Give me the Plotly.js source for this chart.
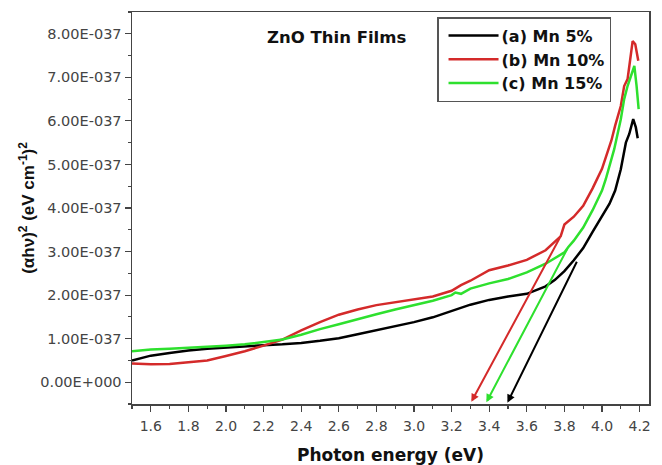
<!DOCTYPE html>
<html>
<head>
<meta charset="utf-8">
<script src="https://cdn.plot.ly/plotly-3.0.1.min.js"></script>
<style>html,body{margin:0;padding:0;background:#fff;}#chart{width:662px;height:465px;}</style>
</head>
<body>
<div id="chart"></div>
<script>
// Sample names
const seriesNames = ["(a) Mn 5%", "(b) Mn 10%", "(c) Mn 15%"];

// (a) Mn 5%
const xA = [1.5,1.6,1.7,1.8,1.9,2.0,2.1,2.2,2.3,2.4,2.5,2.6,2.7,2.8,2.9,3.0,3.1,3.2,3.3,3.4,3.5,3.6,3.7,3.75,3.8,3.85,3.9,3.95,4.0,4.04,4.07,4.1,4.127,4.145,4.166,4.18,4.19];
const yA = [0.50e-37,0.61e-37,0.67e-37,0.73e-37,0.77e-37,0.80e-37,0.83e-37,0.85e-37,0.87e-37,0.90e-37,0.95e-37,1.01e-37,1.10e-37,1.19e-37,1.28e-37,1.38e-37,1.49e-37,1.63e-37,1.78e-37,1.89e-37,1.97e-37,2.03e-37,2.20e-37,2.35e-37,2.55e-37,2.80e-37,3.08e-37,3.45e-37,3.80e-37,4.10e-37,4.40e-37,4.89e-37,5.50e-37,5.70e-37,6.04e-37,5.85e-37,5.60e-37];

// (b) Mn 10%
const xB = [1.5,1.6,1.7,1.8,1.9,2.0,2.1,2.2,2.3,2.4,2.5,2.6,2.7,2.8,2.9,3.0,3.1,3.2,3.25,3.3,3.35,3.4,3.5,3.6,3.7,3.75,3.78,3.8,3.85,3.9,3.95,4.0,4.05,4.07,4.1,4.118,4.136,4.15,4.163,4.177,4.193];
const yB = [0.43e-37,0.41e-37,0.42e-37,0.46e-37,0.50e-37,0.60e-37,0.71e-37,0.84e-37,0.98e-37,1.19e-37,1.38e-37,1.55e-37,1.67e-37,1.77e-37,1.84e-37,1.90e-37,1.97e-37,2.10e-37,2.23e-37,2.33e-37,2.45e-37,2.57e-37,2.68e-37,2.81e-37,3.03e-37,3.22e-37,3.35e-37,3.62e-37,3.80e-37,4.05e-37,4.45e-37,4.90e-37,5.55e-37,5.89e-37,6.34e-37,6.80e-37,6.96e-37,7.41e-37,7.83e-37,7.76e-37,7.38e-37];

// (c) Mn 15%
const xC = [1.5,1.6,1.7,1.8,1.9,2.0,2.1,2.2,2.3,2.4,2.5,2.6,2.7,2.8,2.9,3.0,3.1,3.2,3.22,3.25,3.3,3.4,3.5,3.6,3.7,3.8,3.82,3.85,3.9,3.95,4.0,4.02,4.065,4.1,4.118,4.136,4.154,4.172,4.184,4.195];
const yC = [0.71e-37,0.75e-37,0.77e-37,0.79e-37,0.82e-37,0.84e-37,0.87e-37,0.92e-37,0.98e-37,1.09e-37,1.22e-37,1.33e-37,1.45e-37,1.56e-37,1.67e-37,1.77e-37,1.87e-37,2.00e-37,2.06e-37,2.03e-37,2.15e-37,2.27e-37,2.37e-37,2.52e-37,2.72e-37,2.98e-37,3.10e-37,3.25e-37,3.55e-37,3.95e-37,4.40e-37,4.66e-37,5.35e-37,6.04e-37,6.50e-37,6.80e-37,7.03e-37,7.26e-37,6.80e-37,6.27e-37];

// Tangent (band-gap extrapolation) lines: [top end, arrow tip]
const tanAx = [3.87, 3.497], tanAy = [2.80e-37, -0.47e-37];
const tanBx = [3.78, 3.305], tanBy = [3.35e-37, -0.45e-37];
const tanCx = [3.82, 3.385], tanCy = [3.10e-37, -0.46e-37];

// Axis ticks
const xTickVals = [1.6,1.8,2.0,2.2,2.4,2.6,2.8,3.0,3.2,3.4,3.6,3.8,4.0,4.2];
const xTickText = ["1.6","1.8","2.0","2.2","2.4","2.6","2.8","3.0","3.2","3.4","3.6","3.8","4.0","4.2"];
const yTickVals = [0,1e-37,2e-37,3e-37,4e-37,5e-37,6e-37,7e-37,8e-37];
const yTickText = ["0.00E+000","1.00E-037","2.00E-037","3.00E-037","4.00E-037","5.00E-037","6.00E-037","7.00E-037","8.00E-037"];

const colors = ["#000000", "#d42a2a", "#2ee02e"];

const traces = [
  {x: xA, y: yA, name: seriesNames[0], mode: "lines", line: {color: colors[0], width: 2.5}},
  {x: xB, y: yB, name: seriesNames[1], mode: "lines", line: {color: colors[1], width: 2.5}},
  {x: xC, y: yC, name: seriesNames[2], mode: "lines", line: {color: colors[2], width: 2.5}}
];

function arrowAnn(xs, ys, color) {
  return {x: xs[1], y: ys[1], ax: xs[0], ay: ys[0], xref: "x", yref: "y", axref: "x", ayref: "y",
    text: "", showarrow: true, arrowhead: 2, arrowsize: 0.8, arrowwidth: 2, arrowcolor: color, standoff: 0};
}

const wide = "DejaVu Sans, Verdana, sans-serif";
const narrow = "Liberation Sans, Arial, sans-serif";

const layout = {
  width: 662, height: 465,
  margin: {l: 132, r: 13, t: 12, b: 61},
  paper_bgcolor: "#fff", plot_bgcolor: "#fff",
  font: {family: wide, color: "#333"},
  showlegend: true,
  legend: {x: 0.59, y: 0.987, xanchor: "left", yanchor: "top",
    bordercolor: "#555", borderwidth: 1.5, bgcolor: "#fff",
    font: {family: wide, size: 16, color: "#111", weight: "bold"},
    tracegroupgap: 0, itemwidth: 53},
  xaxis: {
    range: [1.5, 4.25], tickmode: "array", tickvals: xTickVals, ticktext: xTickText,
    ticks: "outside", ticklen: 6, tickwidth: 1.2, tickcolor: "#444", ticklabelstandoff: 3,
    minor: {tickmode: "linear", tick0: 1.5, dtick: 0.1, ticks: "outside", ticklen: 3, tickcolor: "#444"},
    showline: true, mirror: true, linecolor: "#444", linewidth: 1.5,
    showgrid: false, zeroline: false,
    tickfont: {family: wide, size: 14, color: "#444"},
    title: {text: "Photon energy (eV)", font: {family: wide, size: 17, color: "#111", weight: "bold"}, standoff: 18}
  },
  yaxis: {
    range: [-0.5e-37, 8.5e-37], tickmode: "array", tickvals: yTickVals, ticktext: yTickText,
    ticks: "outside", ticklen: 6, tickwidth: 1.2, tickcolor: "#444",
    minor: {tickmode: "linear", tick0: 0, dtick: 0.5e-37, ticks: "outside", ticklen: 3, tickcolor: "#444"},
    showline: true, mirror: true, linecolor: "#444", linewidth: 1.5,
    showgrid: false, zeroline: false,
    tickfont: {family: wide, size: 14.5, color: "#444"},
    title: {text: "(αhν)<sup>2</sup> (eV cm<sup>-1</sup>)<sup>2</sup>", font: {family: narrow, size: 17, color: "#111", weight: "bold"}, standoff: 1}
  },
  annotations: [
    {xref: "paper", yref: "paper", x: 0.257, y: 0.936, xanchor: "left", yanchor: "middle",
     text: "ZnO Thin Films", showarrow: false, font: {family: wide, size: 16.5, color: "#111", weight: "bold"}},
    arrowAnn(tanBx, tanBy, colors[1]),
    arrowAnn(tanCx, tanCy, colors[2]),
    arrowAnn(tanAx, tanAy, colors[0])
  ]
};

Plotly.newPlot("chart", traces, layout, {staticPlot: true, displayModeBar: false}).then(function () {
  // lengthen legend line samples to match the reference
  document.querySelectorAll(".legendlines path").forEach(function (p) {
    p.setAttribute("d", "M10,0h50");
  });
});
</script>
</body>
</html>
